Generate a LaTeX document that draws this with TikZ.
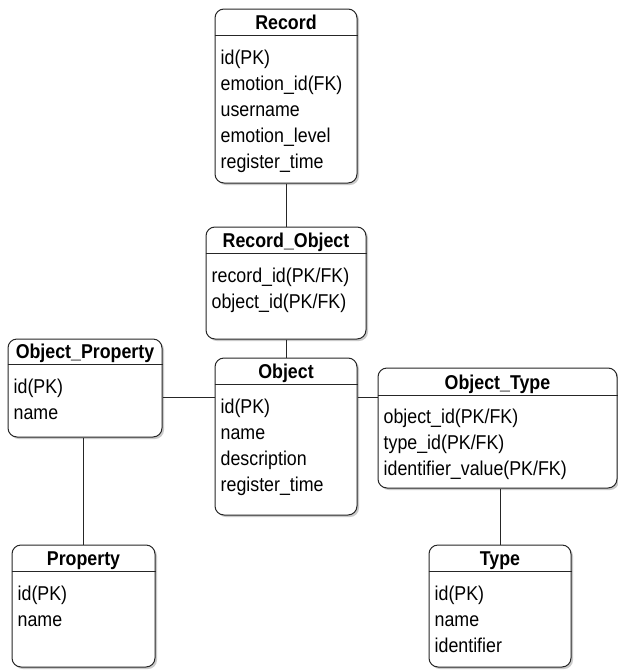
\documentclass[tikz,border=0pt]{standalone}
\usepackage{fontspec}
\setmainfont{Liberation Sans}[FakeStretch=0.89]
\usetikzlibrary{positioning,calc,shadows}

\begin{document}
\begin{tikzpicture}[x=1pt, y=-1pt,
  entity/.style={draw=black!85, line width=1pt, rounded corners=9pt, fill=white, inner sep=0pt,
    drop shadow={shadow xshift=2pt, shadow yshift=-2pt, opacity=0.35, fill=black!60}},
  title/.style={anchor=base, inner sep=0pt, font=\fontsize{20}{26}\selectfont\bfseries},
  attrs/.style={anchor=north west, align=left, inner sep=0pt, font=\fontsize{20}{26}\selectfont},
  sep/.style={draw=black!85, line width=0.8pt},
  link/.style={draw=black!85, line width=0.8pt}]

  \useasboundingbox (0,0) rectangle (618,670);

  % tables
  \node[entity, minimum width=142pt, minimum height=174pt] (record) at (286,96) {};
  \node[title] (recordT) at ($(record.north)+(0,21)$) {Record};
  \draw[sep] ($(record.north west)+(0,27)$) -- ($(record.north east)+(0,27)$);
  \node[attrs] (recordA) at ($(record.north west)+(6,38)$) {\strut id(PK)\\ emotion\_id(FK)\\ username\\ emotion\_level\\ register\_time};

  \node[entity, minimum width=160pt, minimum height=112pt] (recobj) at (286,283) {};
  \node[title] (recobjT) at ($(recobj.north)+(0,21)$) {Record\_Object};
  \draw[sep] ($(recobj.north west)+(0,27)$) -- ($(recobj.north east)+(0,27)$);
  \node[attrs] (recobjA) at ($(recobj.north west)+(6,38)$) {\strut record\_id(PK/FK)\\ object\_id(PK/FK)};

  \node[entity, minimum width=142pt, minimum height=157pt] (object) at (286,436.5) {};
  \node[title] (objectT) at ($(object.north)+(0,21)$) {Object};
  \draw[sep] ($(object.north west)+(0,27)$) -- ($(object.north east)+(0,27)$);
  \node[attrs] (objectA) at ($(object.north west)+(6,38)$) {\strut id(PK)\\ name\\ description\\ register\_time};

  \node[entity, minimum width=154pt, minimum height=98pt] (objprop) at (85,388) {};
  \node[title] (objpropT) at ($(objprop.north)+(0,20)$) {Object\_Property};
  \draw[sep] ($(objprop.north west)+(0,26)$) -- ($(objprop.north east)+(0,26)$);
  \node[attrs] (objpropA) at ($(objprop.north west)+(6,37)$) {\strut id(PK)\\ name};

  \node[entity, minimum width=239pt, minimum height=120pt] (objtype) at (497.5,428) {};
  \node[title] (objtypeT) at ($(objtype.north)+(0,22)$) {Object\_Type};
  \draw[sep] ($(objtype.north west)+(0,28)$) -- ($(objtype.north east)+(0,28)$);
  \node[attrs] (objtypeA) at ($(objtype.north west)+(6,38)$) {\strut object\_id(PK/FK)\\ type\_id(PK/FK)\\ identifier\_value(PK/FK)};

  \node[entity, minimum width=143pt, minimum height=122pt] (property) at (83.5,606) {};
  \node[title] (propertyT) at ($(property.north)+(0,21)$) {Property};
  \draw[sep] ($(property.north west)+(0,27)$) -- ($(property.north east)+(0,27)$);
  \node[attrs] (propertyA) at ($(property.north west)+(6,38)$) {\strut id(PK)\\ name};

  \node[entity, minimum width=142pt, minimum height=122pt] (type) at (500,606) {};
  \node[title] (typeT) at ($(type.north)+(0,21)$) {Type};
  \draw[sep] ($(type.north west)+(0,27)$) -- ($(type.north east)+(0,27)$);
  \node[attrs] (typeA) at ($(type.north west)+(6,38)$) {\strut id(PK)\\ name\\ identifier};

  % relations
  \coordinate (hub) at (286,397);
  \draw[link] (record) -- (recobj);
  \draw[link] (recobj) -- (object);
  \draw[link] (objprop.east |- hub) -- (object.west |- hub);
  \draw[link] (object.east |- hub) -- (objtype.west |- hub);
  \draw[link] (property.north |- objprop.south) -- (property.north);
  \draw[link] (type.north |- objtype.south) -- (type.north);
\end{tikzpicture}
\end{document}
